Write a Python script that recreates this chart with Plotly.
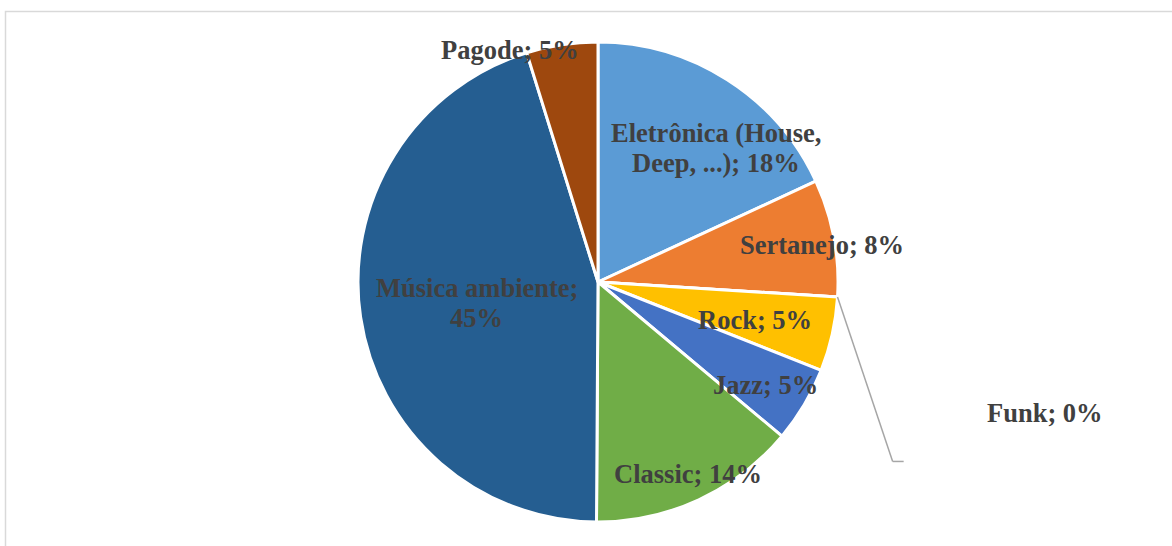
import math
import plotly.graph_objects as go

# ---- data ----
categories = ["Eletrônica (House, Deep, ...)", "Sertanejo", "Funk", "Rock",
              "Jazz", "Classic", "Música ambiente", "Pagode"]
values = [18.1, 7.9, 0.0, 5.0, 5.1, 14.0, 45.1, 4.8]
colors = ["#5B9BD5", "#ED7D31", "#A5A5A5", "#FFC000",
          "#4472C4", "#70AD47", "#255E91", "#9E480E"]

# label styling: radius fraction and angle offset (deg) from slice mid-angle
label_r = [0.744, 0.946, 1.94, 0.673, 0.818, 0.884, 0.512, 1.033]
label_da = [8.8, 1.2, 12.8, 1.0, 0.9, -0.3, -1.3, -12.2]
wrap_after = {0: "(House, ", 6: "ambiente; "}

W, H = 1172, 546
CX, CY, R = 598, 282, 240
FONT = "Liberation Serif"
TXT = "#404040"
LINE_H = 30
FS = 26.5


def paper(px, py):
    return px / W, 1 - py / H


total = sum(values)
fig = go.Figure(go.Pie(
    labels=categories, values=values, sort=False, direction="clockwise",
    rotation=0, marker=dict(colors=colors, line=dict(color="white", width=3)),
    textinfo="none", hoverinfo="skip",
    domain=dict(x=[(CX - R) / W, (CX + R) / W],
                y=[(H - CY - R) / H, (H - CY + R) / H]),
))

annotations = []
shapes = []
cum = 0.0
for i, (cat, v) in enumerate(zip(categories, values)):
    start = cum / total * 360
    mid = (cum + v / 2) / total * 360
    cum += v
    ang = math.radians(mid + label_da[i])
    lx = CX + label_r[i] * R * math.sin(ang)
    ly = CY - label_r[i] * R * math.cos(ang)
    text = f"{cat}; {round(v)}%"
    if i in wrap_after:
        k = text.index(wrap_after[i]) + len(wrap_after[i])
        lines = [text[:k].strip(), text[k:].strip()]
    else:
        lines = [text]
    n = len(lines)
    for j, ln in enumerate(lines):
        yy = ly + (j - (n - 1) / 2) * LINE_H
        x, y = paper(lx, yy)
        annotations.append(dict(
            x=x, y=y, xref="paper", yref="paper", text=f"<b>{ln}</b>",
            showarrow=False, xanchor="center", yanchor="middle",
            font=dict(family=FONT, size=FS, color=TXT)))
    if v == 0:
        # leader line from slice edge to the label
        a0 = math.radians(start)
        p0 = (CX + R * math.sin(a0), CY - R * math.cos(a0))
        pend = (lx - 141, ly + 48)
        pel = (pend[0] - 11, pend[1])
        pts = [p0, pel, pend]
        for (xa, ya), (xb, yb) in zip(pts[:-1], pts[1:]):
            x0, y0 = paper(xa, ya)
            x1, y1 = paper(xb, yb)
            shapes.append(dict(type="line", xref="paper", yref="paper",
                               x0=x0, y0=y0, x1=x1, y1=y1,
                               line=dict(color="#A6A6A6", width=1.5)))

# chart area border (extends past right/bottom)
bx0, by0 = paper(5.5, 11.5)
shapes.append(dict(type="rect", xref="paper", yref="paper",
                   x0=bx0, y0=-0.05, x1=1.05, y1=by0,
                   line=dict(color="#D9D9D9", width=1.5), layer="below"))

fig.update_layout(
    width=W, height=H, margin=dict(l=0, r=0, t=0, b=0),
    paper_bgcolor="white", plot_bgcolor="white", showlegend=False,
    annotations=annotations, shapes=shapes,
)
fig.write_html("out.html", config={"displayModeBar": False},
               post_script="document.body.style.margin='0';"
                           "document.body.style.overflow='hidden';")
